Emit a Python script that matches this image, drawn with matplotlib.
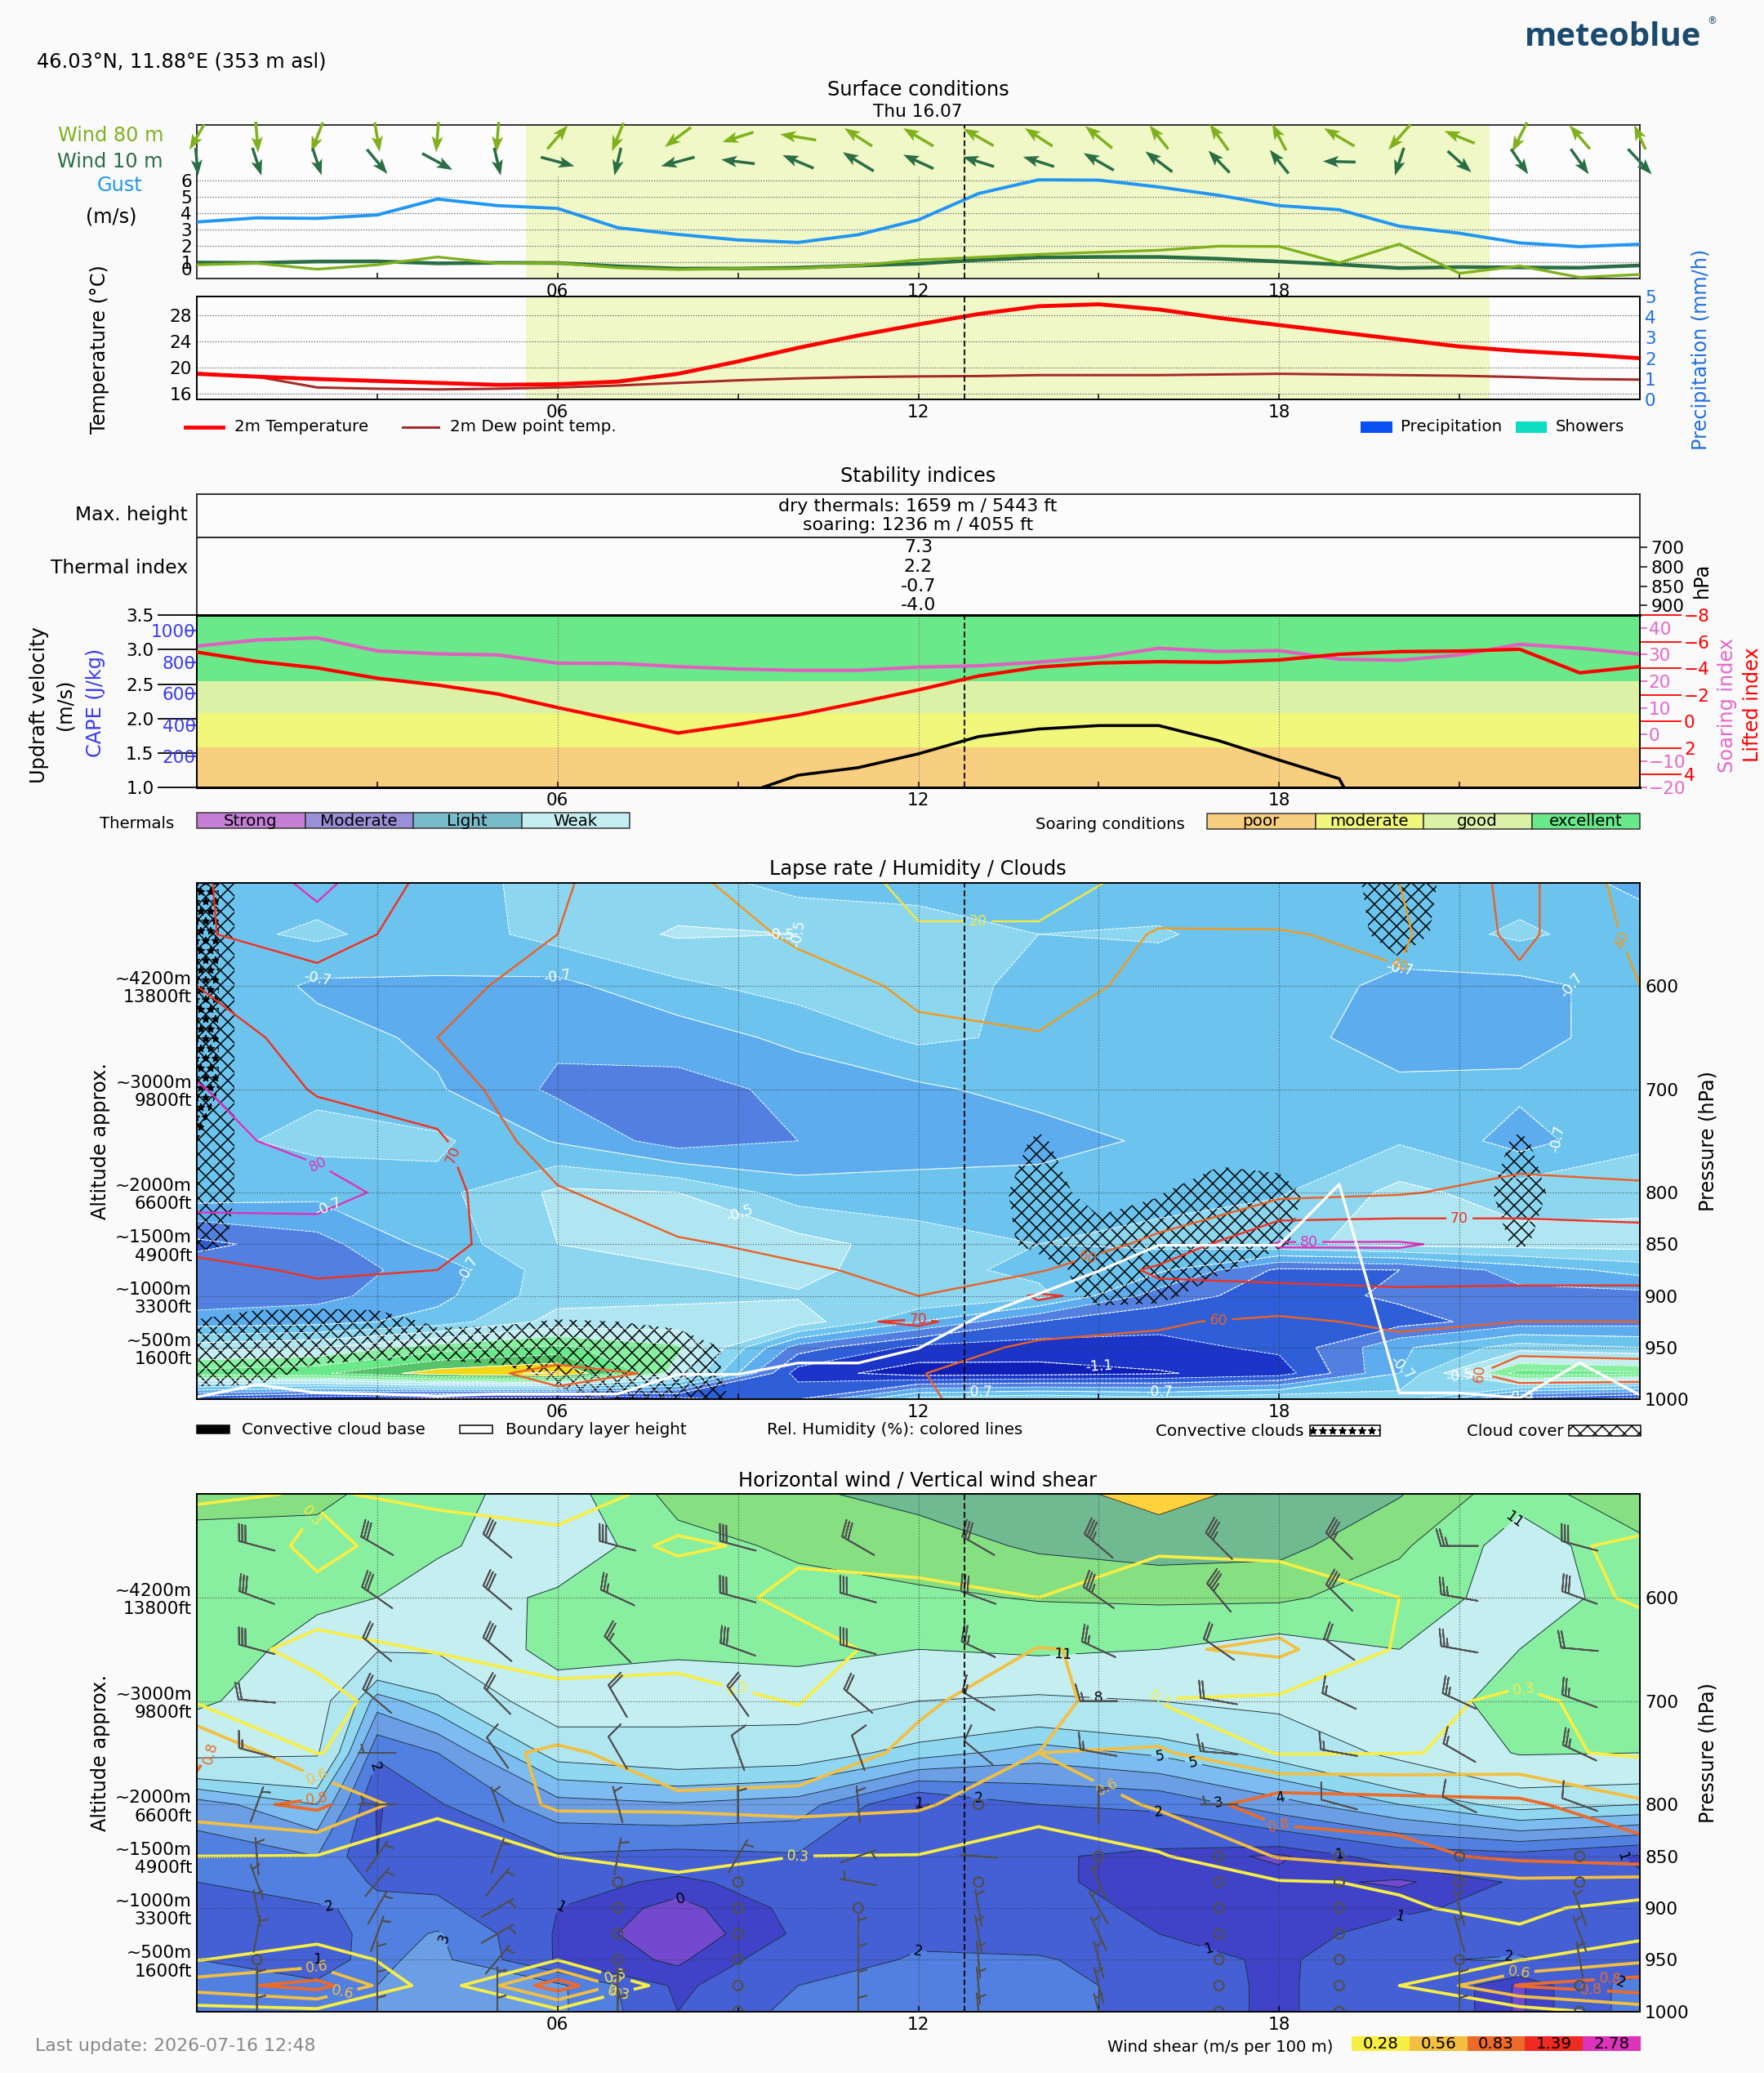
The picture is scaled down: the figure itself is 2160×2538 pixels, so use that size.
import matplotlib
matplotlib.use('Agg')
import matplotlib.pyplot as plt
from matplotlib.patches import Rectangle
from matplotlib.lines import Line2D
import numpy as np

W, H = 2160, 2538
BG = '#fafafa'
plt.rcParams['font.family'] = 'DejaVu Sans'
plt.rcParams['font.size'] = 7.2
plt.rcParams['hatch.linewidth'] = 0.5
plt.rcParams['hatch.color'] = 'black'
LEG = 6.65

hours = list(range(25))
hours2 = list(range(0, 25, 2))
wind_hours = [0, 2, 3, 4, 6, 8, 10, 12, 14, 16, 18, 20, 22, 24]
levels_p = [500, 550, 600, 650, 700, 750, 800, 850, 875, 900, 925, 950, 975, 1000]
now = 12.77

# surface
gust = [3.46, 3.71, 3.68, 3.89, 4.86, 4.46, 4.29, 3.11, 2.7, 2.36, 2.21, 2.68, 3.59, 5.2, 6.04, 6.02, 5.6, 5.09, 4.46, 4.21, 3.2, 2.77, 2.18, 1.95, 2.1]
wind10 = [.98, .96, 1.04, 1.05, .93, .96, .95, .75, .61, .61, .66, .79, .91, 1.13, 1.29, 1.32, 1.32, 1.21, 1.04, .86, .64, .70, .68, .66, .80]
wind80 = [.84, .93, .57, .84, 1.32, .93, .95, .66, .55, .61, .61, .80, 1.14, 1.30, 1.48, 1.61, 1.73, 1.98, 1.96, .96, 2.11, .32, .77, .07, .25]
dir80_x = [-18, 3, -14, 6, -3, -3, 25, -14, -32, -38, -44, -34, -37, -37, -34, -33, -23, -23, -17, -37, -27, -37, -18, -25, -14]
dir80_y = [-31, -38, -36, -36, -37, -37, 29, -35, -24, -12, 7, 22, 22, 21, 22, 27, 29, 32, 32, 22, -31, 15, -36, 29, 30]
dir10_x = [3, 11, 11, 25, 37, 8, 41, -8, -41, -41, -38, -38, -37, -38, -38, -37, -33, -26, -23, -40, -11, 29, 21, 22, 29]
dir10_y = [-34, -34, -33, -30, -20, -34, -11, -34, -11, 5, 16, 23, 17, 12, 12, 21, 25, 27, 29, 1, -34, -26, -31, -31, -31]
temp = [19.0, 18.56, 18.2, 17.9, 17.6, 17.3, 17.4, 17.8, 19.0, 20.9, 23.0, 24.9, 26.6, 28.2, 29.4, 29.7, 28.9, 27.6, 26.5, 25.4, 24.3, 23.2, 22.5, 22.0, 21.4]
dew = [19.1, 18.56, 16.9, 16.7, 16.6, 16.7, 16.9, 17.2, 17.6, 18.0, 18.3, 18.5, 18.6, 18.65, 18.8, 18.8, 18.8, 18.9, 19.0, 18.9, 18.8, 18.7, 18.5, 18.2, 18.1]

# stability
soaring = [33.2, 35.5, 36.3, 31.4, 30.3, 29.9, 26.8, 26.7, 25.5, 24.6, 24.1, 24.1, 25.3, 25.8, 27.2, 29.0, 32.4, 31.2, 31.5, 28.3, 27.9, 29.9, 33.9, 32.4, 30.2]
lifted = [-5.22, -4.52, -4.03, -3.25, -2.74, -2.07, -1.04, -.08, .88, .23, -.49, -1.41, -2.37, -3.42, -4.09, -4.40, -4.50, -4.46, -4.63, -5.06, -5.26, -5.30, -5.44, -3.66, -4.13]
updraft = [0, 0, 0, 0, 0, 0, 0, 0, 0, .88, 1.18, 1.29, 1.49, 1.74, 1.85, 1.90, 1.90, 1.68, 1.40, 1.13, -.5, 0, 0, 0, 0]
thermal_values = ['7.3', '2.2', '-0.7', '-4.0']
thermal_hpa = ['700', '800', '850', '900']
soar_edges = [1.0, 1.585, 2.08, 2.544, 3.5]
soar_colors = ['#f7cf7e', '#f0f77a', '#daf1a6', '#69e98a']
soar_names = ['poor', 'moderate', 'good', 'excellent']
therm_colors = ['#c57fd6', '#9a90d8', '#78bccb', '#c4eef0']
therm_names = ['Strong', 'Moderate', 'Light', 'Weak']

# lapse rate, rows = levels_p, columns = hours2
lapse = [
    [-.65, -.65, -.66, -.55, -.55, -.64, -.64, -.65, -.65, -.65, -.65, -.65, -.72],
    [-.64, -.58, -.66, -.56, -.49, -.50, -.55, -.60, -.59, -.65, -.66, -.58, -.66],
    [-.60, -.72, -.71, -.73, -.62, -.56, -.55, -.63, -.65, -.66, -.72, -.73, -.66],
    [-.62, -.66, -.72, -.78, -.76, -.67, -.58, -.62, -.65, -.67, -.74, -.73, -.66],
    [-.60, -.62, -.69, -.82, -.83, -.78, -.72, -.66, -.65, -.65, -.68, -.68, -.66],
    [-.63, -.57, -.58, -.71, -.85, -.80, -.75, -.75, -.68, -.66, -.61, -.74, -.62],
    [-.64, -.67, -.63, -.48, -.50, -.65, -.66, -.64, -.62, -.61, -.47, -.55, -.54],
    [-.93, -.84, -.66, -.50, -.46, -.46, -.55, -.60, -.58, -.52, -.47, -.46, -.46],
    [-.83, -.85, -.76, -.54, -.51, -.47, -.56, -.63, -.68, -.92, -.90, -.76, -.66],
    [-.85, -.83, -.73, -.54, -.52, -.51, -.50, -.57, -.85, -.95, -.88, -.83, -.84],
    [-.76, -.74, -.66, -.46, -.46, -.44, -.70, -.90, -.97, -.96, -.94, -.85, -.84],
    [-.44, -.40, -.25, -.18, -.28, -.85, -1.03, -1.05, -1.03, -.98, -.72, -.55, -.60],
    [-.15, -.12, .05, .12, -.35, -1.05, -1.15, -1.14, -1.11, -1.05, -.70, -.15, -.18],
    [-1.0, -1.1, -1.15, -1.2, -1.05, -.90, -.55, -.50, -.55, -.50, -.55, -.95, -1.05],
]
lapse_levels = [-1.2, -1.1, -1.0, -.9, -.8, -.7, -.6, -.5, -.4, -.3, -.2, -.1, 0, .1]
lapse_colors = ['#4a10b8', '#0f1fb8', '#1a35c8', '#2f5fd8', '#5380e0', '#5cacee', '#6cc4ee', '#8dd6f0',
                '#b0e6f2', '#c4eef2', '#88eea0', '#69e98a', '#55c46a', '#f0d818', '#ffc030']

humidity = [
    [68, 83, 66, 63, 42, 35, 14, 14, 25, 30, 40, 66, 30],
    [69, 75, 65, 60, 48, 38, 22, 22, 42, 41, 37, 65, 35],
    [70, 66, 63, 56, 48, 45, 38, 33, 45, 44, 42, 55, 40],
    [74, 67, 60, 53, 48, 46, 42, 41, 47, 47, 45, 46, 44],
    [81, 69, 65, 52, 48, 47, 44, 44, 48, 48, 48, 48, 47],
    [84, 76, 71.5, 54, 50, 48, 45, 46, 50, 50, 52, 53, 50],
    [85, 85, 73, 61, 54, 50, 48, 48, 53, 57, 59, 64, 63],
    [72, 73, 72, 65, 61, 58, 55, 54, 62, 81, 81, 76, 75],
    [68, 71, 70, 66, 63, 61, 58, 59, 72, 73, 74, 73, 73],
    [65, 68, 66, 66, 65, 63, 60, 71, 66, 67, 68, 68, 68],
    [64, 66, 65, 65, 66, 68, 71, 65, 61, 58, 62, 60, 60],
    [64, 65, 64, 64, 66, 67, 65, 58, 58, 52, 57, 57, 56],
    [65, 65, 63, 58, 61, 63, 60.5, 53, 50, 45, 48, 66, 65],
    [62, 63, 62, 62, 62, 62, 62, 52, 50, 46, 48, 50, 50],
]
humidity_levels = [20, 40, 60, 70, 80, 90]
humidity_colors = ['#f5e642', '#f09a20', '#e8622a', '#ee3322', '#dd33bb', '#3ce070']

cloud = [
    [1, .2, 0, 0, 0, 0, 0, 0, 0, 0, 0, 0, 0, 0, 0, 0, 0, 0, 0, .2, 1, .2, 0, 0, 0],
    [1, .2, 0, 0, 0, 0, 0, 0, 0, 0, 0, 0, 0, 0, 0, 0, 0, 0, 0, .1, .9, .1, 0, 0, 0],
    [1, .2, 0, 0, 0, 0, 0, 0, 0, 0, 0, 0, 0, 0, 0, 0, 0, 0, 0, 0, 0, 0, 0, 0, 0],
    [1, .2, 0, 0, 0, 0, 0, 0, 0, 0, 0, 0, 0, 0, 0, 0, 0, 0, 0, 0, 0, 0, 0, 0, 0],
    [1, .2, 0, 0, 0, 0, 0, 0, 0, 0, 0, 0, 0, 0, 0, 0, 0, 0, 0, 0, 0, 0, 0, 0, 0],
    [1, .2, 0, 0, 0, 0, 0, 0, 0, 0, 0, 0, 0, 0, .6, 0, 0, 0, 0, 0, 0, 0, .6, 0, 0],
    [1, .2, 0, 0, 0, 0, 0, 0, 0, 0, 0, 0, 0, 0, 1, .1, .45, 1, .8, 0, 0, 0, .9, 0, 0],
    [.8, .2, 0, 0, 0, 0, 0, 0, 0, 0, 0, 0, 0, 0, .8, 1, 1, 1, .6, 0, 0, 0, .6, 0, 0],
    [0, 0, 0, 0, 0, 0, 0, 0, 0, 0, 0, 0, 0, 0, 0, 1, 1, .6, .1, 0, 0, 0, 0, 0, 0],
    [0, 0, 0, 0, 0, 0, 0, 0, 0, 0, 0, 0, 0, 0, 0, .8, .7, .1, 0, 0, 0, 0, 0, 0, 0],
    [.55, .9, 1, .9, .35, .4, .55, .5, .3, 0, 0, 0, 0, 0, 0, 0, 0, 0, 0, 0, 0, 0, 0, 0, 0],
    [1, 1, 1, 1, 1, 1, 1, 1, 1, .3, 0, 0, 0, 0, 0, 0, 0, 0, 0, 0, 0, 0, 0, 0, 0],
    [1, .9, .2, 0, 0, .2, .7, 1, 1, .3, 0, 0, 0, 0, 0, 0, 0, 0, 0, 0, 0, 0, 0, 0, 0],
    [0, 0, 0, 0, 0, 0, .3, .7, 1, .4, 0, 0, 0, 0, 0, 0, 0, 0, 0, 0, 0, 0, 0, 0, 0],
]
conv_hours = [0, 1, 24]
convective = [[.77, 0, 0], [.77, 0, 0], [.77, 0, 0], [.77, 0, 0], [.77, 0, 0], [.5, 0, 0], [0, 0, 0],
              [0, 0, 0], [0, 0, 0], [0, 0, 0], [0, 0, 0], [0, 0, 0], [0, 0, 0], [0, 0, 0]]
boundary_layer = [998, 986, 994, 995, 997, 995, 995, 995, 976, 976, 965, 965, 951, 920, 898, 876, 851, 851, 851, 792, 994, 994, 999, 965, 996]

# wind speed, rows = levels_p, columns = wind_hours
wind_speed = [
    [15, 15, 13, 12, 9.5, 15, 16.5, 18, 19, 21, 19, 17.2, 12, 17],
    [13, 12.5, 12, 11.5, 9, 13, 14.5, 15.5, 17.5, 18.5, 18, 14.5, 9.5, 13],
    [13, 11.5, 11, 9.5, 11.5, 12.5, 13, 13.5, 14.2, 14.5, 14.5, 12.5, 9.8, 12],
    [12.5, 10, 8.2, 8.2, 12, 11.5, 12, 11, 11.5, 11, 9.5, 11, 11, 12],
    [11.5, 9, 4.5, 5.7, 9.5, 9, 9, 8, 7.5, 8, 8.5, 9.5, 12, 12],
    [8.5, 8.2, 2.2, 3, 6.5, 7, 6.8, 5.5, 4.5, 5.2, 6.5, 8.5, 11.2, 11],
    [3.5, 5, .9, 1.9, 3.6, 3.9, 3.5, .9, 2, 2.2, 3.6, 5, 6.5, 6],
    [2.5, 3, 1, 1.6, 1.9, 1.7, 1.9, 1.6, 1.1, .8, .4, 1.4, 1.6, .9],
    [2, 2.5, 1.9, 1.8, 1.4, .8, 1.5, 1.6, 1.1, .8, .7, .4, 1.1, 1.1],
    [1.7, 1.9, 2.2, 2.2, 1, .3, 1.2, 1.7, 1.2, .9, .8, .9, 1.2, 1.3],
    [1.6, 1.3, 2.5, 3.1, .9, .1, 1.1, 1.8, 1.5, 1, .8, 1.2, 1.5, 1.5],
    [2, 1, 2.8, 3.3, .9, .4, 1.5, 2.1, 2.1, 1.5, .8, 1.9, 2.1, 1.2],
    [2.4, 2.3, 3, 3.5, 3.2, .8, 2, 2.3, 2.4, 1.6, .8, 2, .4, 2.5],
    [2.4, 2.5, 3, 3.5, 3.2, 1, 2.3, 2.3, 2.4, 1.6, .8, 2, .4, 2.5],
]
wind_levels = [.5, 1, 2, 3, 4, 5, 6, 8, 11, 14, 17, 20]
wind_colors = ['#7349cf', '#4043c8', '#4460d4', '#5280e0', '#6c9ee6', '#7dbcf0', '#90d8f0', '#b0e6f0',
               '#c4eef0', '#88eea0', '#86df80', '#70ba92', '#ffd23c']

shear = [
    [.35, .25, .35, .40, .20, .20, .15, .15, .20, .20, .15, .12, .20],
    [.00, .36, .12, .20, .30, .25, .20, .20, .25, .25, .20, .25, .30],
    [.20, .20, .20, .15, .20, .32, .33, .28, .40, .35, .28, .20, .30],
    [.20, .33, .27, .20, .22, .22, .34, .57, .52, .62, .25, .22, .20],
    [.25, .22, .40, .34, .35, .27, .52, .70, .27, .23, .25, .30, .24],
    [.90, .27, .45, .60, .45, .40, .62, .56, .60, .26, .27, .32, .25],
    [.70, .90, .31, .60, .60, .65, .60, .34, .60, 1.0, .95, .90, .60],
    [.28, .27, .20, .28, .33, .28, .27, .20, .25, .58, .75, .90, 1.0],
    [.20, .18, .15, .20, .25, .20, .20, .12, .15, .26, .30, .50, .45],
    [.15, .15, .15, .15, .15, .12, .12, .10, .12, .20, .26, .33, .20],
    [.20, .20, .15, .15, .12, .10, .10, .10, .10, .15, .25, .25, .20],
    [.27, .40, .15, .27, .10, .10, .10, .10, .10, .10, .20, .27, .50],
    [.70, .95, .10, 1.0, .05, .05, .10, .10, .10, .10, .28, .85, 1.0],
    [.15, .20, .10, .20, .05, .05, .10, .10, .10, .10, .15, .15, .40],
]
shear_levels = [.28, .56, .83, 1.39, 2.78]
shear_colors = ['#f7ee45', '#f2bf40', '#ec6a2a', '#ee2a22', '#dd33bb']
shear_names = ['0.28', '0.56', '0.83', '1.39', '2.78']

barb_hours = list(range(1, 24, 2))
barb_levels = levels_p[1:]
barb_speed = [
    [30, 30, 30, 30, 30, 30, 30, 35, 35, 35, 25, 30],
    [30, 30, 30, 25, 30, 30, 30, 35, 35, 30, 25, 30],
    [30, 20, 30, 25, 30, 30, 25, 25, 20, 20, 25, 20],
    [20, 20, 20, 20, 20, 20, 15, 15, 20, 15, 25, 25],
    [15, 5, 10, 10, 10, 10, 10, 15, 15, 15, 15, 25],
    [5, 5, 5, 5, 5, 5, 0, 5, 5, 10, 10, 10],
    [5, 5, 5, 5, 5, 5, 5, 0, 0, 0, 0, 0],
    [5, 5, 5, 0, 0, 5, 0, 5, 0, 0, 0, 0],
    [5, 5, 5, 0, 0, 0, 5, 5, 0, 0, 5, 5],
    [5, 5, 5, 0, 0, 5, 5, 5, 0, 0, 5, 5],
    [0, 5, 5, 0, 0, 5, 5, 5, 0, 0, 0, 5],
    [5, 5, 5, 5, 0, 5, 5, 5, 0, 0, 5, 0],
    [5, 5, 5, 5, 0, 5, 5, 5, 0, 0, 5, 0],
]
barb_dir = [
    [285, 300, 310, 285, 285, 300, 300, 310, 315, 315, 270, 285],
    [290, 305, 310, 295, 285, 285, 290, 305, 320, 315, 280, 290],
    [285, 310, 310, 315, 290, 285, 295, 295, 305, 305, 280, 275],
    [275, 310, 315, 330, 325, 310, 300, 270, 280, 295, 295, 290],
    [285, 270, 325, 330, 340, 340, 310, 280, 275, 280, 300, 295],
    [20, 270, 340, 345, 0, 355, 0, 0, 270, 285, 295, 290],
    [355, 35, 20, 10, 30, 70, 275, 0, 0, 0, 0, 0],
    [340, 40, 40, 0, 0, 280, 0, 335, 0, 0, 0, 0],
    [350, 30, 60, 0, 0, 0, 350, 330, 0, 0, 345, 340],
    [10, 20, 60, 0, 0, 0, 350, 335, 0, 0, 345, 340],
    [0, 0, 40, 0, 0, 0, 355, 345, 0, 0, 0, 350],
    [0, 0, 0, 0, 0, 0, 355, 345, 0, 0, 0, 0],
    [0, 0, 0, 0, 0, 0, 355, 345, 0, 0, 0, 0],
]

fig = plt.figure(figsize=(W / 216, H / 216), dpi=216, facecolor=BG)


def px_axes(left, top, right, bottom):
    a = fig.add_axes([left / W, 1 - bottom / H, (right - left) / W, (bottom - top) / H])
    a.set_facecolor('#fcfcfc')
    a.set_xlim(0, 24)
    for s in a.spines.values():
        s.set_linewidth(0.6)
        s.set_color('#222222')
    return a


def txt(x, y, s, **kw):
    kw.setdefault('ha', 'center')
    kw.setdefault('va', 'center')
    return fig.text(x / W, 1 - y / H, s, **kw)


def box(left, top, right, bottom, **kw):
    kw.setdefault('linewidth', 0.5)
    fig.add_artist(Rectangle((left / W, 1 - bottom / H), (right - left) / W, (bottom - top) / H,
                             transform=fig.transFigure, **kw))


def time_axis(a):
    a.set_xticks([3, 6, 9, 12, 15, 18, 21])
    a.set_xticklabels(['', '06', '', '12', '', '18', ''])
    a.tick_params(axis='x', direction='in', length=2.5, width=0.5, pad=2)


def pressure_axes(a):
    a.set_ylim(1000, 500)
    a.set_xlim(0, 24)
    time_axis(a)
    a.set_yticks([600, 700, 800, 850, 900, 950])
    a.set_yticklabels(['~4200m\n13800ft', '~3000m\n9800ft', '~2000m\n6600ft', '~1500m\n4900ft',
                       '~1000m\n3300ft', '~500m\n1600ft'], linespacing=1.15)
    a.tick_params(axis='y', length=0, pad=2)
    a.grid(True, ls=':', lw=0.4, color='#333333', alpha=0.7)
    a.set_axisbelow(False)
    r = a.twinx()
    r.set_ylim(1000, 500)
    r.set_yticks([600, 700, 800, 850, 900, 950, 1000])
    r.set_yticklabels(['600', '700', '800', '850', '900', '950', '1000'])
    r.tick_params(axis='y', length=0, pad=2)
    for s in r.spines.values():
        s.set_linewidth(0.6)
    return r


# ---------- surface conditions
txt(1124, 110, 'Surface conditions', fontsize=8)
txt(1124, 137, 'Thu 16.07', fontsize=7.2)
txt(45, 76, '46.03°N, 11.88°E (353 m asl)', ha='left', fontsize=8)
txt(1975, 46, 'meteoblue', fontsize=13.4, color='#1b4a6f', fontweight='bold', family='Open Sans')
txt(2096, 26, '®', fontsize=4, color='#1b4a6f')

ax1 = px_axes(241, 152.5, 2008, 341)
ax1.set_ylim(0, 9.42)
ax1.axvspan(5.47, 21.5, color='#f1f8c8', lw=0, zorder=0)
ax1.hlines(range(7), 0, 24, color='#555555', lw=0.4, ls=':', zorder=1)
ax1.vlines([6, 12, 18], 0, 6.3, color='#777777', lw=0.4, ls=':', zorder=1)
ax1.plot(hours, gust, color='#2196f3', lw=1.3, zorder=3)
ax1.plot(hours, wind80, color='#7fb11e', lw=1.1, zorder=3)
ax1.plot(hours, wind10, color='#2a6e45', lw=1.5, zorder=2)
ax1.axvline(now, color='black', lw=0.6, ls=(0, (4, 2)), zorder=4)
ax1.quiver(hours, [8.65] * 25, dir80_x, dir80_y, color='#7fb11e', units='dots', angles='uv', scale_units='dots',
           scale=1, width=3.5, headwidth=4, headlength=5.5, headaxislength=4.5, pivot='mid', clip_on=False, zorder=5)
ax1.quiver(hours, [7.15] * 25, dir10_x, dir10_y, color='#2a6e45', units='dots', angles='uv', scale_units='dots',
           scale=1, width=3.5, headwidth=4, headlength=5.5, headaxislength=4.5, pivot='mid', clip_on=False, zorder=5)
time_axis(ax1)
ax1.set_yticks(range(7))
ax1.tick_params(axis='y', length=0, pad=2)
ax1.get_yticklabels()[0].set_va('bottom')
txt(200, 166, 'Wind 80 m', ha='right', color='#7fb11e', fontsize=8)
txt(200, 198, 'Wind 10 m', ha='right', color='#2a6e45', fontsize=8)
txt(147, 227, 'Gust', color='#2196f3', fontsize=8)
txt(136, 266, '(m/s)', fontsize=8)

ax2 = px_axes(241, 363, 2008, 489)
ax2.set_ylim(15.06, 30.9)
ax2.axvspan(5.47, 21.5, color='#f1f8c8', lw=0, zorder=0)
ax2.hlines([16, 20, 24, 28], 0, 24, color='#555555', lw=0.4, ls=':', zorder=1)
ax2.vlines([6, 12, 18], 15.06, 30.9, color='#777777', lw=0.4, ls=':', zorder=1)
ax2.plot(hours, dew, color='#a52a2a', lw=1.0, zorder=3)
ax2.plot(hours, temp, color='#ff0000', lw=1.6, zorder=3)
ax2.axvline(now, color='black', lw=0.6, ls=(0, (4, 2)), zorder=4)
time_axis(ax2)
ax2.set_yticks([16, 20, 24, 28])
ax2.tick_params(axis='y', length=0, pad=2)
ax2r = ax2.twinx()
ax2r.set_ylim(0, 5)
ax2r.set_yticks(range(6))
ax2r.tick_params(axis='y', length=0, pad=2, labelcolor='#1f6fe0')
for s in ax2r.spines.values():
    s.set_linewidth(0.6)
txt(122, 428, 'Temperature (°C)', rotation=90, fontsize=8)
txt(2083, 428, 'Precipitation (mm/h)', rotation=90, color='#1f6fe0', fontsize=8)
fig.add_artist(Line2D([227 / W, 273 / W], [1 - 523 / H] * 2, color='#ff0000', lw=1.6))
txt(287, 523, '2m Temperature', ha='left', fontsize=LEG)
fig.add_artist(Line2D([493 / W, 537 / W], [1 - 523 / H] * 2, color='#a52a2a', lw=1.0))
txt(551, 523, '2m Dew point temp.', ha='left', fontsize=LEG)
box(1666, 516, 1705, 530, facecolor='#0a50f0', edgecolor='none')
txt(1715, 523, 'Precipitation', ha='left', fontsize=LEG)
box(1856, 516, 1894, 530, facecolor='#0edcc0', edgecolor='none')
txt(1905, 523, 'Showers', ha='left', fontsize=LEG)

# ---------- stability indices
txt(1124, 583, 'Stability indices', fontsize=8)
ax3 = px_axes(241, 605.3, 2008, 658.3)
ax3.set_xticks([])
ax3.set_yticks([])
txt(230, 630, 'Max. height', ha='right', fontsize=7.8)
txt(1124, 620, 'dry thermals: 1659 m / 5443 ft', fontsize=7.4)
txt(1124, 643, 'soaring: 1236 m / 4055 ft', fontsize=7.4)

ax4 = px_axes(241, 658.3, 2008, 753.3)
ax4.set_ylim(3.5, -0.5)
ax4.set_xticks([])
ax4.yaxis.tick_right()
ax4.set_yticks(range(4))
ax4.set_yticklabels(thermal_hpa)
ax4.tick_params(axis='y', length=3, width=0.5, pad=1.5)
for i, v in enumerate(thermal_values):
    ax4.text(12, i, v, ha='center', va='center', fontsize=7.4)
txt(230, 695, 'Thermal index', ha='right', fontsize=7.8)
txt(2084, 710, 'hPa', rotation=90, fontsize=8)

ax5 = px_axes(241, 753.3, 2008, 964.3)
ax5.set_ylim(1, 3.5)
for i in range(4):
    ax5.axhspan(soar_edges[i], soar_edges[i + 1], color=soar_colors[i], lw=0, zorder=0)
ax5.vlines([6, 12, 18], 1, 3.5, color='#777777', lw=0.4, ls=':', zorder=1)
ax5.plot(hours, updraft, color='black', lw=1.2, zorder=3)
ax5.axvline(now, color='black', lw=0.6, ls=(0, (4, 2)), zorder=4)
time_axis(ax5)
ax5.set_yticks([1, 1.5, 2, 2.5, 3, 3.5])
ax5.set_yticklabels(['1.0', '1.5', '2.0', '2.5', '3.0', '3.5'])
ax5.tick_params(axis='y', length=16, width=0.6, pad=1.5)

ax5c = ax5.twinx()
ax5c.set_ylim(0, 1099)
ax5c.yaxis.tick_left()
ax5c.set_yticks([200, 400, 600, 800, 1000])
ax5c.tick_params(axis='y', length=4.5, width=0.6, pad=-4, colors='#3a3af0')
ax5s = ax5.twinx()
ax5s.set_ylim(-20, 44.8)
ax5s.set_yticks(range(-20, 41, 10))
ax5s.tick_params(axis='y', length=3, width=0.6, pad=0.5, colors='#e668c8')
ax5s.plot(hours, soaring, color='#e060c0', lw=1.4, zorder=3)
ax5l = ax5.twinx()
ax5l.set_ylim(5, -8)
ax5l.set_yticks(range(-8, 5, 2))
ax5l.tick_params(axis='y', length=17, width=0.6, pad=1, colors='#ff0000')
ax5l.plot(hours, lifted, color='#ff0000', lw=1.4, zorder=3)
for a in (ax5c, ax5s, ax5l):
    a.patch.set_visible(False)
    for s in a.spines.values():
        s.set_linewidth(0.6)
    a.spines['bottom'].set_linewidth(1.0)
    a.spines['top'].set_linewidth(1.0)

txt(48, 863, 'Updraft velocity', rotation=90, fontsize=8)
txt(80, 863, '(m/s)', rotation=90, fontsize=8)
txt(117, 860, 'CAPE (J/kg)', rotation=90, color='#3a3af0', fontsize=8)
txt(2115, 863, 'Soaring index', rotation=90, color='#e668c8', fontsize=8)
txt(2146, 863, 'Lifted index', rotation=90, color='#ff0000', fontsize=8)

txt(213, 1008, 'Thermals', ha='right', fontsize=6.6)
for i in range(4):
    x0 = 241 + i * 132.5
    box(x0, 995, x0 + 132.5, 1014, facecolor=therm_colors[i], edgecolor='#333333')
    txt(x0 + 66, 1005, therm_names[i], fontsize=LEG)
txt(1451, 1009, 'Soaring conditions', ha='right', fontsize=6.6)
for i in range(4):
    x0 = 1478 + i * 132.5
    box(x0, 996, x0 + 132.5, 1015, facecolor=soar_colors[i], edgecolor='#333333')
    txt(x0 + 66, 1005, soar_names[i], fontsize=LEG)

# ---------- lapse rate / humidity / clouds
txt(1124, 1064, 'Lapse rate / Humidity / Clouds', fontsize=8)
ax6 = px_axes(241, 1080.6, 2008, 1713)
ax6.contourf(hours2, levels_p, lapse, levels=lapse_levels, colors=lapse_colors, extend='both')
lapse_lines = ax6.contour(hours2, levels_p, lapse, levels=lapse_levels, colors='white', linewidths=0.3)
lapse_lab = ax6.contour(hours2, levels_p, lapse, levels=[-1.1, -.9, -.7, -.5], colors='white', linewidths=0.3)
ax6.clabel(lapse_lab, fmt='%.1f', fontsize=5.8, inline=True, colors='white',
           manual=[(2, 591), (6, 579), (10, 548), (11, 583), (9, 824), (1.9, 850), (4.5, 875), (20, 572),
                   (23.7, 599), (22.9, 729), (15, 971), (16, 989), (13, 996), (20.2, 975), (21, 975), (22, 996)])
hum = ax6.contour(hours2, levels_p, humidity, levels=humidity_levels, colors=humidity_colors, linewidths=0.8)
ax6.clabel(hum, fmt='%d', fontsize=5.8, inline=True,
           manual=[(2, 775), (4.4, 760), (13, 545), (23.5, 560), (21, 640), (18.5, 850), (21, 850), (12, 915),
                   (15, 895), (17, 925), (21, 970)])
ax6.contourf(hours, levels_p, cloud, levels=[.5, 2], colors='none', hatches=['xxxx'])
ax6.contourf(conv_hours, levels_p, convective, levels=[.49, 2], colors='none', hatches=['***'])
ax6.plot(hours, boundary_layer, color='white', lw=1.1, zorder=5)
ax6.axvline(now, color='black', lw=0.6, ls=(0, (4, 2)), zorder=6)
ax6r = pressure_axes(ax6)
ax6r.set_ylabel('Pressure (hPa)', fontsize=8, labelpad=3.5)
ax6.set_ylabel('Altitude approx.', fontsize=8, labelpad=2)

box(241, 1745, 281, 1755, facecolor='black', edgecolor='black')
txt(296, 1750, 'Convective cloud base', ha='left', fontsize=LEG)
box(563, 1745, 603, 1755, facecolor='white', edgecolor='black')
txt(619, 1750, 'Boundary layer height', ha='left', fontsize=LEG)
txt(939, 1750, 'Rel. Humidity (%): colored lines', ha='left', fontsize=LEG)
txt(1415, 1752, 'Convective clouds', ha='left', fontsize=LEG)
box(1604, 1745, 1690, 1758, facecolor='white', edgecolor='black', hatch='***')
txt(1796, 1752, 'Cloud cover', ha='left', fontsize=LEG)
box(1921, 1745, 2009, 1758, facecolor='none', edgecolor='black', hatch='xxxx')

# ---------- horizontal wind / shear
txt(1124, 1813, 'Horizontal wind / Vertical wind shear', fontsize=8)
ax7 = px_axes(241, 1829.3, 2008, 2462.6)
ax7.contourf(wind_hours, levels_p, wind_speed, levels=wind_levels, colors=wind_colors, extend='both')
wind_lines = ax7.contour(wind_hours, levels_p, wind_speed, levels=wind_levels, colors='#1a2a3a', linewidths=0.3)
ax7.clabel(wind_lines, fmt='%d', fontsize=5.8, inline=True, colors='black',
           manual=[(3, 765), (2.2, 898), (6, 890), (8, 899), (4.1, 930), (2, 936), (14.4, 649), (15, 690), (16, 759),
                   (16.6, 752), (12, 798), (13, 798), (16, 800), (17, 797), (18, 800), (12, 941), (19, 850), (20, 907),
                   (21.8, 929), (16.6, 983), (22, 531), (23.7, 850), (23.7, 975)])
shear_lab = ax7.contour(hours2, levels_p, shear, levels=shear_levels, colors=shear_colors, linewidths=1.25)
ax7.clabel(shear_lab, fmt={.28: '0.3', .56: '0.6', .83: '0.8', 1.39: '1.4', 2.78: '2.8'}, fontsize=5.8, inline=True,
           manual=[(2, 525), (9, 687), (10, 850), (2, 950), (2, 775), (2, 788), (.5, 755), (2.4, 977), (16, 660),
                   (15, 800), (18, 820), (22, 700), (23.2, 975), (23.5, 965), (22, 965), (7, 960), (7, 970), (7, 978)])
b_speed = np.array(barb_speed, dtype=float)
b_dir = np.radians(np.array(barb_dir, dtype=float))
ax7.barbs(barb_hours, barb_levels, -b_speed * np.sin(b_dir), -b_speed * np.cos(b_dir), pivot='middle', length=5.5,
          color='#505050', linewidth=0.6, sizes=dict(spacing=0.09, height=0.45, emptybarb=0.13), zorder=5)
ax7.axvline(now, color='black', lw=0.6, ls=(0, (4, 2)), zorder=6)
ax7r = pressure_axes(ax7)
ax7r.set_ylabel('Pressure (hPa)', fontsize=8, labelpad=3.5)
ax7.set_ylabel('Altitude approx.', fontsize=8, labelpad=2)

txt(43, 2505, 'Last update: 2026-07-16 12:48', ha='left', color='#888888', fontsize=7.35)
txt(1356, 2507, 'Wind shear (m/s per 100 m)', ha='left', fontsize=6.6)
for i in range(5):
    x0 = 1655 + i * 70.8
    box(x0, 2493, x0 + 70.8, 2511, facecolor=shear_colors[i], edgecolor='none')
    txt(x0 + 35.4, 2502, shear_names[i], fontsize=6.6)

fig.savefig('out.png', dpi=216, facecolor=BG)
